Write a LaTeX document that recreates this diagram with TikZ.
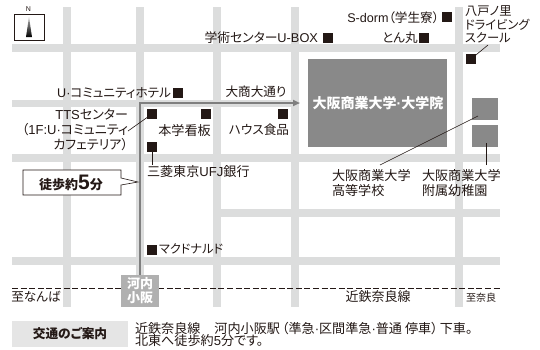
\documentclass[tikz,border=0pt]{standalone}
\usepackage{fontspec}
\setmainfont[RawFeature=+palt]{Noto Sans CJK JP}
\newfontfamily\latf{Liberation Sans}
\newcommand{\lat}[1]{{\latf #1}}
\usetikzlibrary{arrows.meta,shadings}
\definecolor{road}{HTML}{DCDDDD}
\definecolor{bldg}{HTML}{898989}
\definecolor{route}{HTML}{7F7F7F}
\definecolor{stn}{HTML}{B0B0B0}
\definecolor{ink}{HTML}{231815}
\definecolor{panel}{HTML}{E5E5E5}
\newcommand{\fsb}[2]{\fontsize{#1}{#2}\selectfont}
\tikzset{
  x=1pt,y=-1pt,
  road/.style={fill=road,draw=none},
  mk/.style={fill=ink,draw=none,minimum size=10pt,inner sep=0pt,outer sep=0pt},
  lbl/.style={inner sep=0pt,outer sep=0pt,text=ink,font={\fsb{12.6}{15}}},
  kan/.style={lbl,font={\fsb{13.1}{15.5}}},
  lead/.style={draw=ink,line width=.6pt},
  bld/.style={fill=bldg,draw=none,inner sep=0pt},
}
\begin{document}
\begin{tikzpicture}
\useasboundingbox (0,0) rectangle (540,349);
\fill[white] (0,0) rectangle (540,349);
% roads
\foreach \a/\b in {63/71,136/144,213/221,291/299,455/463}{\fill[road] (\a,7) rectangle (\b,307);}
\foreach \a/\b in {44/52,154/162,257/264.5}{\fill[road] (12,\a) rectangle (500,\b);}
\fill[road] (12,100) rectangle (299,107);
\fill[road] (221,209) rectangle (500,217);
% railway
\draw[ink,line width=.8pt,dash pattern=on 6pt off 2.6pt] (12,288) -- (500,288);
% buildings
\node[bld,minimum width=139pt,minimum height=88pt] (campus) at (377.5,103) {};
\node[bld,minimum width=26pt,minimum height=22pt] (kou) at (485,109) {};
\node[bld,minimum width=26pt,minimum height=22pt] (you) at (485,136) {};
% route
\coordinate (routeS) at (140,276);
\coordinate (routeC) at (140,103);
\coordinate (routeE) at (300,103);
\draw[route,line width=2.2pt,-{Triangle[length=7pt,width=6pt]}] (routeS) -- (routeC) -- (routeE);
% station
\node[fill=stn,minimum width=38pt,minimum height=32pt,inner sep=0pt,text=white,font={\fsb{13}{14}\bfseries},align=center] (station) at (140,291) {河内\\小阪};
% marks
\node[mk] (mHotel) at (178,93) {};
\node[mk] (mTTS) at (152,114) {};
\node[mk] (mKanban) at (206,114) {};
\node[mk] (mUFJ) at (152,147) {};
\node[mk] (mMac) at (152,250) {};
\node[mk] (mHouse) at (283,114) {};
\node[mk] (mUbox) at (328,38) {};
\node[mk] (mTon) at (424,38) {};
\node[mk] (mSdorm) at (447,17) {};
\node[mk] (mDrive) at (471,59) {};
% labels
\node[lbl,anchor=east] (tHotel) at (171,93) {\lat{U·}コミュニティホテル};
\node[lbl,anchor=east,font={\fsb{12.8}{15}}] (tUbox) at (318,38) {学術センター\lat{U-BOX}};
\node[lbl] (tTon) at (400,38) {とん丸};
\node[lbl,anchor=east] (tSdorm) at (439,18) {\lat{S-dorm}（学生寮）};
\node[lbl,align=left,anchor=west,font={\fsb{12.3}{13.5}}] (tDrive) at (465,24.5) {八戸ノ里\\ドライビング\\スクール};
\node[lbl] (tDai) at (256,92) {大商大通り};
\node[lbl,text=white,font={\fsb{14}{15}\bfseries}] (tCampus) at (378,103) {大阪商業大学\lat{·}大学院};
\node[lbl,align=right,anchor=east,font={\fsb{13}{15}}] (tTTS) at (128,130) {\lat{TTS}センター\\（\lat{1F:U·}コミュニティ\\カフェテリア）};
\node[kan] (tKanban) at (184.5,130) {本学看板};
\node[lbl] (tHouse) at (259,130) {ハウス食品};
\node[kan,anchor=west] (tUFJ) at (147,172) {三菱東京\lat{UFJ}銀行};
\node[lbl,anchor=west,font={\fsb{12.2}{15}}] (tMac) at (159,249) {マクドナルド};
\node[kan,align=left,anchor=west] (tKou) at (332,183) {大阪商業大学\\高等学校};
\node[kan,align=left,anchor=west] (tYou) at (422,183) {大阪商業大学\\附属幼稚園};
\node[lbl] (tNanba) at (36,297) {至なんば};
\node[lbl,font={\fsb{13}{15}}] (tKintetsu) at (378,297) {近鉄奈良線};
\node[lbl,font={\fsb{10}{12}}] (tNara) at (481,298) {至奈良};
% leaders
\coordinate (lTTS) at (128,131);
\coordinate (lDrive) at (488,45);
\coordinate (lKou) at (380,165);
\coordinate (lKouE) at (478,116);
\coordinate (lYou) at (486,165);
\coordinate (lYouE) at (486,143);
\coordinate (lUFJ) at (152,165);
\draw[lead] (lTTS) -- (mTTS.center);
\draw[lead] (mUFJ) -- (lUFJ);
\draw[lead] (mDrive.center) -- (lDrive);
\draw[lead] (lKou) -- (lKouE);
\draw[lead] (lYou) -- (lYouE);
% callout
\coordinate (cTip) at (138,182);
\draw[ink,line width=.6pt,fill=white] (23,170) -- (121,170) -- (121,178) -- (cTip) -- (121,185) -- (121,195) -- (23,195) -- cycle;
\node[lbl,font={\fsb{13}{15}\bfseries}] (tWalk) at (71,183) {徒歩約{\latf\bfseries\fsb{21}{15}5}分};
% north
\node[draw=ink,line width=1pt,minimum width=30pt,minimum height=26pt,inner sep=0pt,fill=white] (north) at (29,27) {};
\shade[top color=gray!60,bottom color=black] (29,17) -- (32,37) -- (26,37) -- cycle;
\node[lbl,font={\latf\fsb{7}{8}}] (tN) at (28.5,9) {N};
% bottom
\node[fill=panel,minimum width=116pt,minimum height=26pt,inner sep=0pt,font={\fsb{12.7}{15}\bfseries},text=ink] (panel) at (70,334) {交通のご案内};
\node[lbl,align=left,anchor=west,font={\fsb{13.1}{12.8}}] (tInfo) at (135,334.5) {近鉄奈良線\hspace{14pt}河内小阪駅\hspace{2pt}（準急\lat{·}区間準急\lat{·}普通 停車）\hspace{2pt}下車。\\北東へ徒歩約\lat{5}分です。};
\end{tikzpicture}
\end{document}
